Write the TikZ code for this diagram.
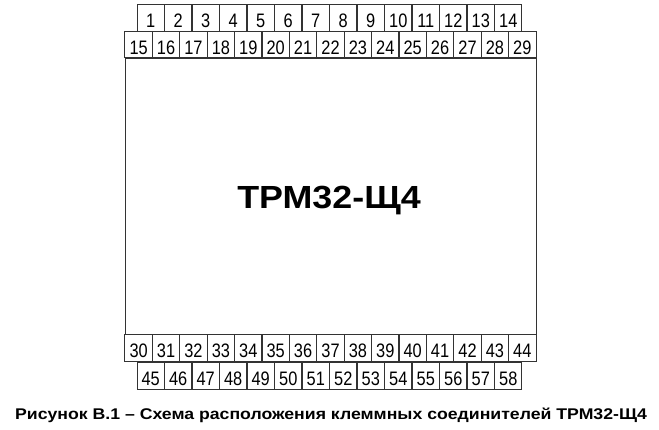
\documentclass[tikz,border=0pt]{standalone}
\usepackage{fontspec}
\setmainfont{Liberation Sans}
\newfontfamily\narrowfont[FakeStretch=0.84]{Liberation Sans}
\newfontfamily\widefont[FakeStretch=1.14]{Liberation Sans}
\newfontfamily\titlefont[FakeStretch=1.12]{Liberation Sans}
\begin{document}
\begin{tikzpicture}[x=1pt,y=-1pt,
  cell/.style={draw=black!80, line width=1pt, minimum width=27.45pt, minimum height=26.8pt,
    inner sep=0pt, text height=19.5pt, text depth=0pt, font=\narrowfont\fontsize{19.5}{19.5}\selectfont},
  body/.style={draw=black!80, line width=1pt, inner sep=0pt}]
\useasboundingbox (0,0) rectangle (659,429);
% main body
\node[body, minimum width=411pt, minimum height=276pt] (main) at (330.5,196) {};
% top row 1..14
\foreach \i [count=\k from 0] in {1,...,14} {
  \node[cell] (c\i) at ({137+13.75+27.5*\k},18) {\i};
}
% second row 15..29
\foreach \i [count=\k from 0] in {15,...,29} {
  \node[cell] (c\i) at ({125+13.7+27.4*\k},44.5) {\i};
}
% bottom row 30..44
\foreach \i [count=\k from 0] in {30,...,44} {
  \node[cell] (c\i) at ({125+13.7+27.4*\k},348) {\i};
}
% bottom row 45..58
\foreach \i [count=\k from 0] in {45,...,58} {
  \node[cell] (c\i) at ({137+13.75+27.5*\k},376) {\i};
}
\node[anchor=base, inner sep=0pt, font=\titlefont\bfseries\fontsize{32}{32}\selectfont] (title) at (329,208) {ТРМ32-Щ4};
\node[anchor=base, inner sep=0pt, font=\widefont\bfseries\fontsize{15.5}{15.5}\selectfont] (caption) at (331,419) {Рисунок В.1 – Схема расположения клеммных соединителей ТРМ32-Щ4};
\end{tikzpicture}
\end{document}
